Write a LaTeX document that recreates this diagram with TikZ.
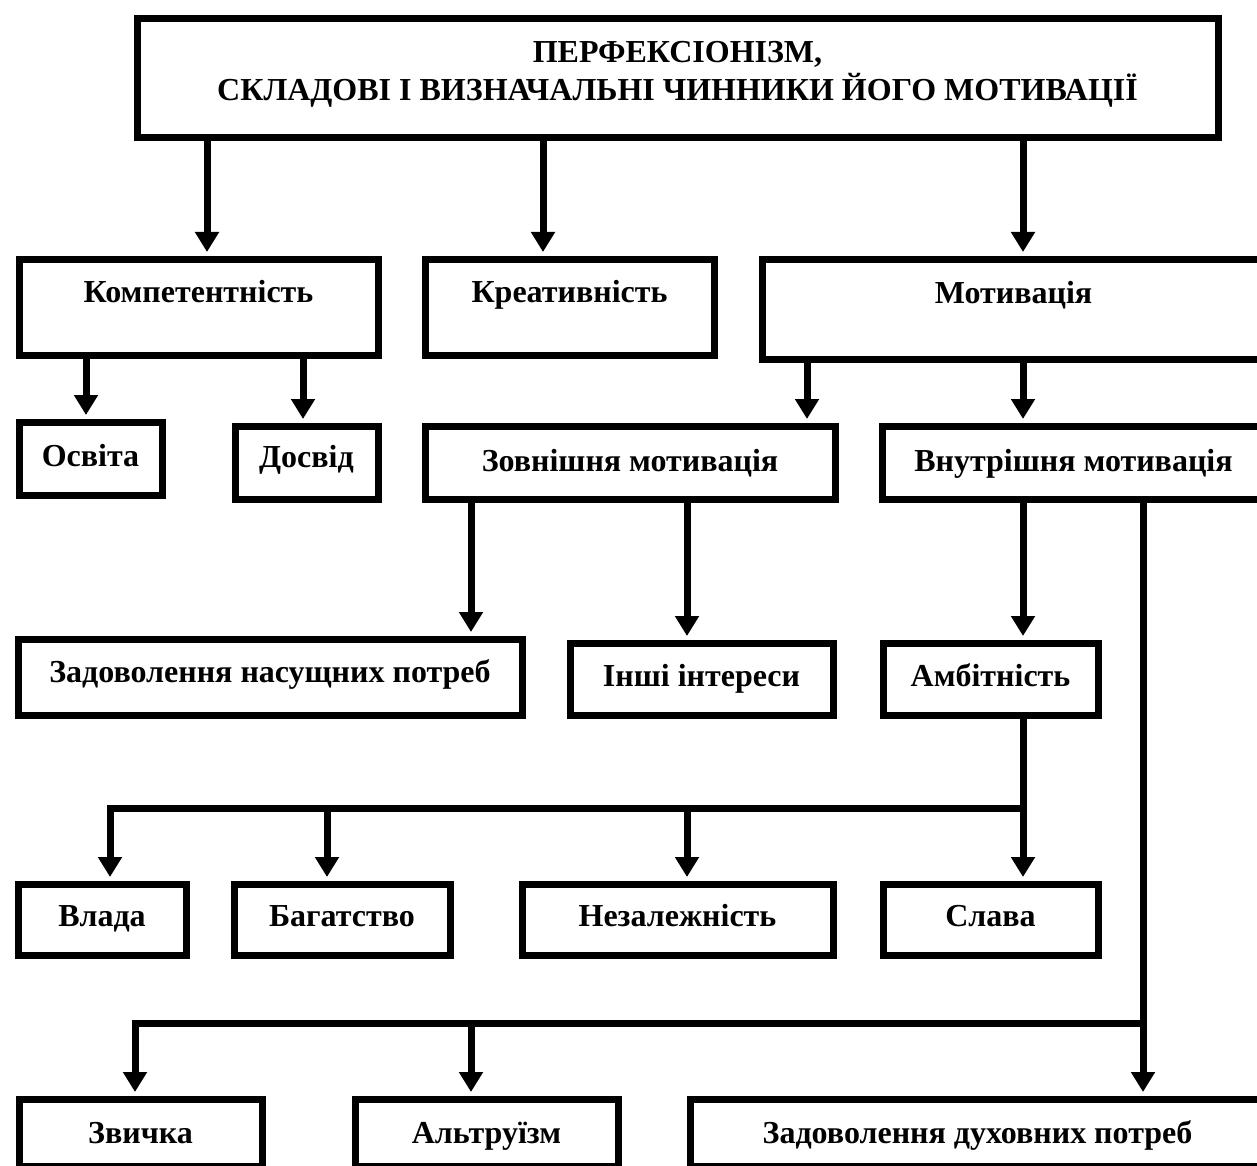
\documentclass[tikz,border=0pt]{standalone}
\usepackage{fontspec}
\setmainfont{Liberation Serif}
\usetikzlibrary{arrows.meta}
\begin{document}
\begin{tikzpicture}[x=1pt,y=-1pt,
  every node/.style={font=\fontsize{32}{38}\selectfont\bfseries},
  bx/.style n args={3}{draw, line width=7pt, inner sep=0pt, anchor=north west,
     minimum width=#1, text height=#2, text depth=#3},
  arr/.style={line width=7pt, -{Triangle[length=20pt,width=23pt]}, shorten >=3.5pt},
  ln/.style={line width=7pt}]
\clip (0,0) rectangle (1257,1166);
% column coordinates
\coordinate (c86) at (86,0);
\coordinate (c207) at (207,0);
\coordinate (c303) at (303,0);
\coordinate (c543) at (543,0);
\coordinate (c807) at (807,0);
\coordinate (c1023) at (1023,0);
\coordinate (c471) at (471,0);
\coordinate (c687) at (687,0);
\coordinate (c327) at (327,0);
\coordinate (c1143) at (1143,0);
\coordinate (j1) at (1023,808);
\coordinate (j1l) at (110,808);
\coordinate (j2) at (1143,1023);
\coordinate (j2l) at (135,1023);
% boxes
\node[bx={1081pt}{43.5pt}{75.5pt}] (top) at (133.5,15.5)
  {\parbox[t]{1081pt}{\centering\baselineskip=38pt ПЕРФЕКСІОНІЗМ,\\СКЛАДОВІ І ВИЗНАЧАЛЬНІ ЧИННИКИ ЙОГО МОТИВАЦІЇ}};
\node[bx={359pt}{43.5pt}{52.5pt}] (komp) at (15.5,255.5) {Компетентність};
\node[bx={289pt}{43.5pt}{52.5pt}] (kreat) at (421.5,255.5) {Креативність};
\node[bx={503pt}{44.5pt}{55.5pt}] (motiv) at (758.5,255.5) {Мотивація};
\node[bx={143pt}{44.5pt}{28.5pt}] (osvita) at (15.5,418.5) {Освіта};
\node[bx={143pt}{41.5pt}{31.5pt}] (dosvid) at (231.5,422.5) {Досвід};
\node[bx={410pt}{45.5pt}{27.5pt}] (zovn) at (421.5,422.5) {Зовнішня мотивація};
\node[bx={383pt}{45.5pt}{27.5pt}] (vnutr) at (878.5,422.5) {Внутрішня мотивація};
\node[bx={504pt}{43.5pt}{32.5pt}] (zadnas) at (14.5,635.5) {Задоволення насущних потреб};
\node[bx={263pt}{43.5pt}{28.5pt}] (inshi) at (566.5,639.5) {Інші інтереси};
\node[bx={215pt}{43.5pt}{28.5pt}] (ambit) at (879.5,639.5) {Амбітність};
\node[bx={168pt}{42.5pt}{28.5pt}] (vlada) at (14.5,880.5) {Влада};
\node[bx={216pt}{42.5pt}{28.5pt}] (bagat) at (230.5,880.5) {Багатство};
\node[bx={311pt}{42.5pt}{28.5pt}] (nezal) at (518.5,880.5) {Незалежність};
\node[bx={215pt}{42.5pt}{28.5pt}] (slava) at (879.5,880.5) {Слава};
\node[bx={243pt}{44.5pt}{23pt}] (zvychka) at (15.5,1095.5) {Звичка};
\node[bx={263pt}{44.5pt}{23pt}] (altr) at (351.5,1095.5) {Альтруїзм};
\node[bx={575pt}{44.5pt}{23pt}] (zaddukh) at (686.5,1095.5) {Задоволення духовних потреб};
% connectors
\draw[arr] (top.south -| c207) -- (komp.north -| c207);
\draw[arr] (top.south -| c543) -- (kreat.north -| c543);
\draw[arr] (top.south -| c1023) -- (motiv.north -| c1023);
\draw[arr] (komp.south -| c86) -- (osvita.north -| c86);
\draw[arr] (komp.south -| c303) -- (dosvid.north -| c303);
\draw[arr] (motiv.south -| c807) -- (zovn.north -| c807);
\draw[arr] (motiv.south -| c1023) -- (vnutr.north -| c1023);
\draw[arr] (zovn.south -| c471) -- (zadnas.north -| c471);
\draw[arr] (zovn.south -| c687) -- (inshi.north -| c687);
\draw[arr] (vnutr.south -| c1023) -- (ambit.north -| c1023);
\draw[arr] (ambit.south -| c1023) -- (slava.north -| c1023);
\draw[arr] (j1) -- (j1l) -- (vlada.north -| j1l);
\draw[arr] (j1 -| c327) -- (bagat.north -| c327);
\draw[arr] (j1 -| c687) -- (nezal.north -| c687);
\draw[arr] (vnutr.south -| c1143) -- (zaddukh.north -| c1143);
\draw[arr] (j2) -- (j2l) -- (zvychka.north -| j2l);
\draw[arr] (j2 -| c471) -- (altr.north -| c471);
\end{tikzpicture}
\end{document}
